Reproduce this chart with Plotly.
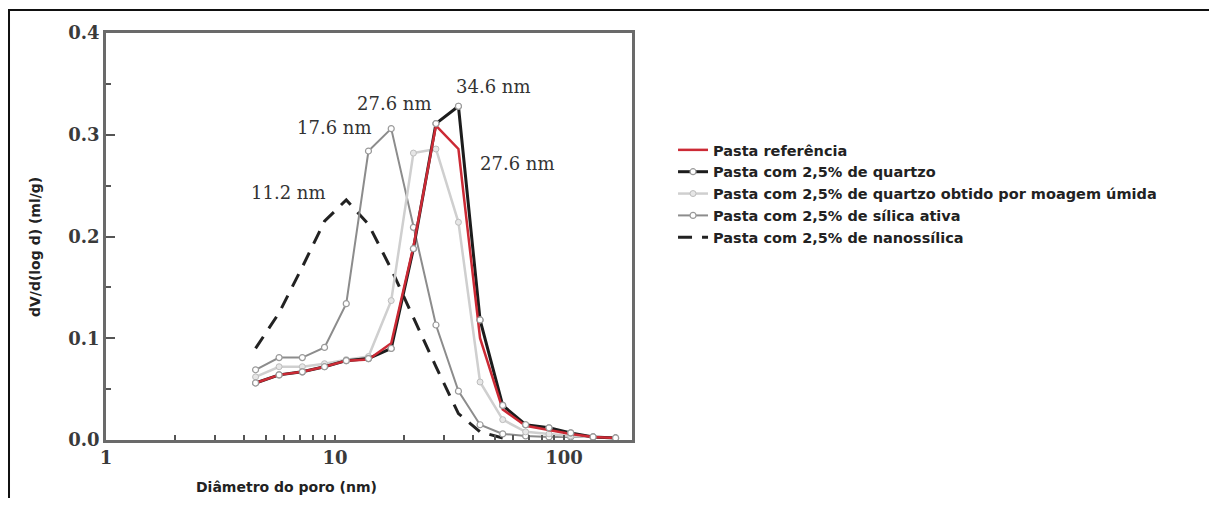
import numpy as np
import plotly.graph_objects as go

# Pore diameter bins (nm)
diam = [4.5, 5.7, 7.2, 9.0, 11.2, 14.0, 17.6, 22.0, 27.6, 34.6, 43.0, 54.0, 68.0, 86.0, 107.0, 134.0, 168.0]

referencia = [0.056, 0.064, 0.067, 0.072, 0.078, 0.079, 0.095, 0.190, 0.309, 0.286, 0.100, 0.030, 0.014, 0.010, 0.006, 0.003, 0.002]
quartzo = [0.056, 0.064, 0.067, 0.072, 0.078, 0.080, 0.090, 0.188, 0.311, 0.328, 0.118, 0.034, 0.015, 0.012, 0.007, 0.003, 0.002]
quartzo_umido = [0.062, 0.072, 0.072, 0.075, 0.079, 0.082, 0.137, 0.282, 0.286, 0.214, 0.057, 0.020, 0.008, 0.006, 0.004, 0.003, 0.002]
silica_ativa = [0.069, 0.081, 0.081, 0.091, 0.134, 0.284, 0.306, 0.209, 0.113, 0.048, 0.015, 0.006, 0.004, 0.003, 0.003, 0.003, 0.002]
nanossilica = [0.090, 0.125, 0.170, 0.215, 0.236, 0.212, 0.168, 0.120, 0.072, 0.026, 0.008, 0.002]
diam_nano = diam[:len(nanossilica)]

names = ["Pasta referência", "Pasta com 2,5% de quartzo",
         "Pasta com 2,5% de quartzo obtido por moagem úmida",
         "Pasta com 2,5% de sílica ativa", "Pasta com 2,5% de nanossílica"]

peak_labels = ["34.6 nm", "27.6 nm", "17.6 nm", "11.2 nm", "27.6 nm"]
# label centres (x in nm, y in ml/g)
label_x = [49.0, 18.1, 9.9, 6.24, 62.4]
label_y = [0.347, 0.331, 0.307, 0.243, 0.272]

xtick_vals = [1, 2, 3, 4, 5, 6, 7, 8, 9, 10, 20, 30, 40, 50, 60, 70, 80, 90, 100]
xtick_text = ["1"] + [""] * 8 + ["10"] + [""] * 8 + ["100"]
ytick_vals = [0.0, 0.1, 0.2, 0.3, 0.4]
ytick_text = ["0.0", "0.1", "0.2", "0.3", "0.4"]

x_title = "Diâmetro do poro (nm)"
y_title = "dV/d(log d) (ml/g)"

SANS = "DejaVu Sans"
SERIF = "DejaVu Serif"

fig = go.Figure()

mk = dict(symbol="circle", size=6, color="white", line=dict(color="#9a9a9a", width=1.2))

fig.add_trace(go.Scatter(x=diam_nano, y=nanossilica, mode="lines", name=names[4],
                         line=dict(color="#222222", width=3, dash="14px,10px"), legendrank=5))
fig.add_trace(go.Scatter(x=diam, y=silica_ativa, mode="lines+markers", name=names[3],
                         line=dict(color="#8c8c8c", width=2), marker=mk, legendrank=4))
fig.add_trace(go.Scatter(x=diam, y=quartzo_umido, mode="lines+markers", name=names[2],
                         line=dict(color="#cfcfcf", width=2.5),
                         marker=dict(symbol="circle", size=6, color="#e6e6e6", line=dict(color="#bdbdbd", width=1)),
                         legendrank=3))
fig.add_trace(go.Scatter(x=diam, y=quartzo, mode="lines+markers", name=names[1],
                         line=dict(color="#1c1c1c", width=3), marker=mk, legendrank=2))
fig.add_trace(go.Scatter(x=diam, y=referencia, mode="lines", name=names[0],
                         line=dict(color="#cc2a35", width=2.5), legendrank=1))
fig.add_trace(go.Scatter(x=diam, y=quartzo, mode="markers", showlegend=False,
                         marker=mk, hoverinfo="skip"))

for t, x, y in zip(peak_labels, label_x, label_y):
    fig.add_annotation(x=np.log10(x), y=y, xref="x", yref="y", text=t, showarrow=False,
                       font=dict(family=SERIF, size=18, color="#333333"))

fig.add_annotation(x=0.344, y=-0.1155, xref="paper", yref="paper", text=x_title, showarrow=False,
                   xanchor="center", yanchor="middle",
                   font=dict(family=SANS, size=14, color="#222222", weight="bold"))
fig.add_annotation(x=-0.135, y=0.474, xref="paper", yref="paper", text=y_title, showarrow=False,
                   textangle=-90, xanchor="center", yanchor="middle",
                   font=dict(family=SANS, size=14, color="#222222", weight="bold"))

fig.add_shape(type="rect", xref="paper", yref="paper",
              x0=-0.1844, x1=2.099, y0=-0.3, y1=1.0565,
              line=dict(color="#111111", width=2), fillcolor="rgba(0,0,0,0)")

fig.update_xaxes(type="log", range=[0, 2.297], tickvals=xtick_vals, ticktext=xtick_text,
                 ticks="inside", ticklen=5, tickwidth=1.5, tickcolor="#555555",
                 showline=True, linecolor="#6a6a6a", linewidth=2.5, mirror=True,
                 showgrid=False, zeroline=False,
                 tickfont=dict(family=SERIF, size=18, color="#3a3a3a", weight="bold"))
fig.update_yaxes(range=[0, 0.4], tickvals=ytick_vals, ticktext=ytick_text,
                 ticks="inside", ticklen=9, tickwidth=2, tickcolor="#555555",
                 minor=dict(dtick=0.05, tick0=0, ticks="inside", ticklen=5, tickwidth=1.5, tickcolor="#555555"),
                 showline=True, linecolor="#6a6a6a", linewidth=2.5, mirror=True,
                 showgrid=False, zeroline=False,
                 tickfont=dict(family=SERIF, size=18, color="#3a3a3a", weight="bold"))

fig.update_layout(
    width=1209, height=490,
    margin=dict(l=98, r=585, t=25, b=58),
    paper_bgcolor="white", plot_bgcolor="white",
    showlegend=True,
    legend=dict(x=1.078, y=0.752, xanchor="left", yanchor="top",
                font=dict(family=SANS, size=14.5, color="#222222", weight="bold"),
                bgcolor="rgba(0,0,0,0)", tracegroupgap=0),
)

fig.write_html("out.html")
